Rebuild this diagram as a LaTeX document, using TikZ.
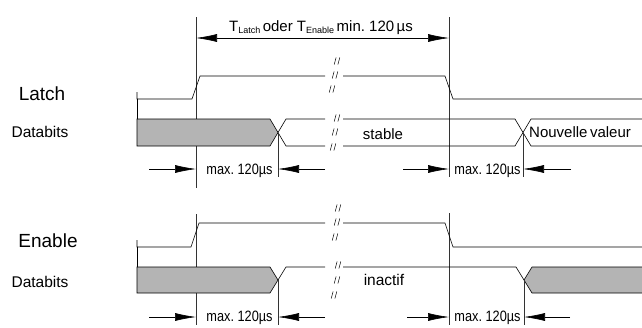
\documentclass[tikz,border=0pt]{standalone}
\usepackage{fontspec}
\setmainfont{Liberation Sans}
\newfontfamily\narrowfont[FakeStretch=0.85]{Liberation Sans}
\usetikzlibrary{arrows.meta}
\definecolor{datagray}{RGB}{180,180,180}
\newcommand{\mysub}[1]{\raisebox{-2.5pt}{\fontsize{9}{9}\selectfont #1}}
\tikzset{
  sig/.style={line width=0.6pt, line join=miter},
  vline/.style={line width=0.6pt, black!80},
  dimarrow/.style={line width=0.6pt, -{Latex[length=21pt,width=8pt]}},
  toparrow/.style={line width=0.6pt, {Latex[length=21pt,width=8pt]}-{Latex[length=21pt,width=8pt]}},
  lbl/.style={inner sep=0pt, anchor=base},
  maxlbl/.style={inner sep=0pt, anchor=base, font=\narrowfont\fontsize{15}{15}\selectfont},
  brk/.pic={\draw[line width=0.5pt] (-2.8,3.5)--(-0.9,-3.5) (0.9,3.5)--(2.8,-3.5);}
}
\begin{document}
\begin{tikzpicture}[x=1pt,y=-1pt]
\useasboundingbox (0,0) rectangle (642,327);

% ---- top dimension ----
\draw[vline] (196,17) -- (196,188);
\draw[vline] (449,17) -- (449,177);
\coordinate (tl) at (196,38);
\coordinate (tr) at (449,38);
\draw[toparrow] (tl) -- (tr);
\node[lbl, font=\fontsize{15}{15}\selectfont] (ttext) at (321,31)
  {T\mysub{Latch}\,oder T\mysub{Enable}\,min.\ 120\,µs};

% ---- labels ----
\node[lbl, font=\fontsize{19}{19}\selectfont] (lat) at (42,100) {Latch};
\node[lbl, font=\fontsize{15.5}{15.5}\selectfont] (db1) at (40,137) {Databits};
\node[lbl, font=\fontsize{19}{19}\selectfont] (ena) at (48,247) {Enable};
\node[lbl, font=\fontsize{15.5}{15.5}\selectfont] (db2) at (40,287) {Databits};

% ---- Latch signal ----
\draw[sig] (137,92) -- (137,99) -- (192,99) -- (200,76) -- (325,76);
\draw[sig] (343,76) -- (445,76) -- (453,99) -- (642,99);
\pic at (337,61) {brk};
\pic at (335,75) {brk};
\pic at (332,89) {brk};
\draw[sig] (137,99) -- (137,119);

% ---- Latch data ----
\draw[sig, fill=datagray] (137,119) -- (270,119) -- (278,132.5) -- (270,146) -- (137,146) -- cycle;
\draw[sig] (278,132.5) -- (286,119) -- (325,119);
\draw[sig] (278,132.5) -- (286,146) -- (325,146);
\draw[sig] (343,119) -- (515,119) -- (531,146) -- (642,146);
\draw[sig] (343,146) -- (515,146) -- (531,119) -- (642,119);
\pic at (337,118) {brk};
\pic at (335,132) {brk};
\pic at (333,147) {brk};
\node[lbl, font=\fontsize{15}{15}\selectfont] (stab) at (383,139) {stable};
\node[lbl, anchor=base west, font=\fontsize{15}{15}\selectfont] (nv) at (529,137) {Nouvelle\,valeur};
\draw[vline] (278,132.5) -- (278,177);
\draw[vline] (523,132.5) -- (523,177);

% ---- Latch max arrows ----
\coordinate (a1s) at (149,169); \coordinate (a1e) at (196,169);
\coordinate (a2s) at (325,169); \coordinate (a2e) at (278,169);
\coordinate (a3s) at (403,169); \coordinate (a3e) at (449,169);
\coordinate (a4s) at (571,169); \coordinate (a4e) at (523,169);
\draw[dimarrow] (a1s) -- (a1e);
\draw[dimarrow] (a2s) -- (a2e);
\draw[dimarrow] (a3s) -- (a3e);
\draw[dimarrow] (a4s) -- (a4e);
\node[maxlbl] (m1) at (239.5,174) {max.\ 120µs};
\node[maxlbl] (m2) at (487.5,174) {max.\ 120µs};

% ---- Enable signal ----
\draw[vline] (196,214) -- (196,325);
\draw[vline] (449,213) -- (449,325);
\draw[sig] (137,240) -- (137,247) -- (191,247) -- (199,223) -- (325,223);
\draw[sig] (343,223) -- (445,223) -- (453,247) -- (642,247);
\pic at (338,208) {brk};
\pic at (337,222) {brk};
\pic at (335,237) {brk};
\draw[sig] (137,247) -- (137,267);

% ---- Enable data ----
\draw[sig, fill=datagray] (137,267) -- (270,267) -- (278,280) -- (270,293) -- (137,293) -- cycle;
\draw[sig] (278,280) -- (286,267) -- (325,267);
\draw[sig] (343,267) -- (516,267) -- (524,280);
\fill[datagray] (642,267) -- (532,267) -- (524,280) -- (532,293) -- (642,293) -- cycle;
\draw[sig] (642,267) -- (532,267) -- (524,280) -- (532,293) -- (642,293);
\pic at (338,265) {brk};
\pic at (337,280) {brk};
\pic at (334,295) {brk};
\node[lbl, font=\fontsize{15.5}{15.5}\selectfont] (inac) at (384,285) {inactif};
\draw[vline] (278,280) -- (278,325);
\draw[vline] (524,280) -- (524,325);

% ---- Enable max arrows ----
\coordinate (b1s) at (149,317); \coordinate (b1e) at (196,317);
\coordinate (b2s) at (325,317); \coordinate (b2e) at (278,317);
\coordinate (b3s) at (407,317); \coordinate (b3e) at (449,317);
\coordinate (b4s) at (570,317); \coordinate (b4e) at (524,317);
\draw[dimarrow] (b1s) -- (b1e);
\draw[dimarrow] (b2s) -- (b2e);
\draw[dimarrow] (b3s) -- (b3e);
\draw[dimarrow] (b4s) -- (b4e);
\node[maxlbl] (m3) at (239.5,321) {max.\ 120µs};
\node[maxlbl] (m4) at (487.5,321) {max.\ 120µs};
\end{tikzpicture}
\end{document}
